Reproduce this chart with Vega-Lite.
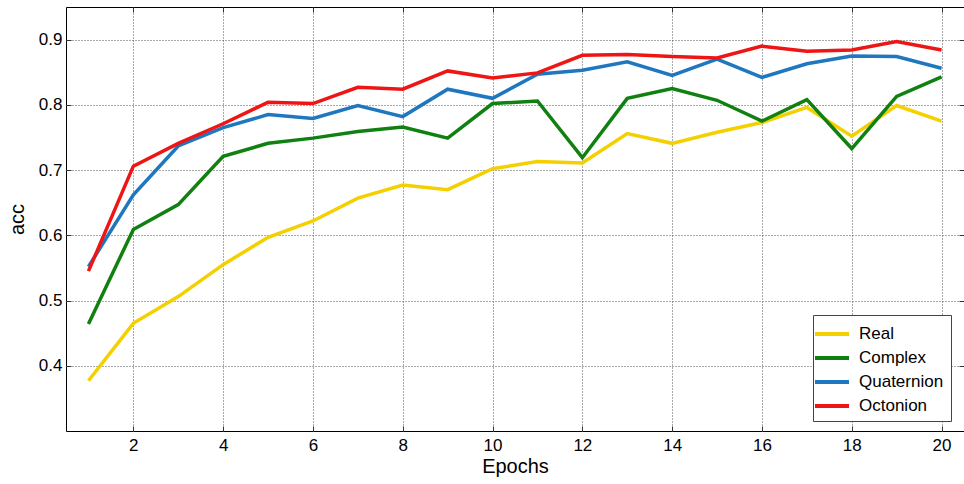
{
  "$schema": "https://vega.github.io/schema/vega-lite/v6.json",
  "width": 898,
  "height": 424,
  "autosize": {"type": "none"},
  "padding": {"left": 66, "top": 7, "right": 0, "bottom": 53},
  "background": "white",
  "config": {
    "font": "Liberation Sans",
    "view": {"stroke": "black", "strokeWidth": 1},
    "axis": {
      "labelFont": "Liberation Sans",
      "titleFont": "Liberation Sans",
      "labelColor": "black",
      "titleColor": "black",
      "domainColor": "black",
      "tickColor": "#333",
      "titleFontWeight": "normal"
    }
  },
  "data": {
    "values": [
      {"epoch": 1, "model": "Real", "acc": 0.377},
      {"epoch": 2, "model": "Real", "acc": 0.465},
      {"epoch": 3, "model": "Real", "acc": 0.506},
      {"epoch": 4, "model": "Real", "acc": 0.555},
      {"epoch": 5, "model": "Real", "acc": 0.597},
      {"epoch": 6, "model": "Real", "acc": 0.622},
      {"epoch": 7, "model": "Real", "acc": 0.657},
      {"epoch": 8, "model": "Real", "acc": 0.677},
      {"epoch": 9, "model": "Real", "acc": 0.670},
      {"epoch": 10, "model": "Real", "acc": 0.702},
      {"epoch": 11, "model": "Real", "acc": 0.713},
      {"epoch": 12, "model": "Real", "acc": 0.711},
      {"epoch": 13, "model": "Real", "acc": 0.756},
      {"epoch": 14, "model": "Real", "acc": 0.741},
      {"epoch": 15, "model": "Real", "acc": 0.758},
      {"epoch": 16, "model": "Real", "acc": 0.773},
      {"epoch": 17, "model": "Real", "acc": 0.796},
      {"epoch": 18, "model": "Real", "acc": 0.752},
      {"epoch": 19, "model": "Real", "acc": 0.799},
      {"epoch": 20, "model": "Real", "acc": 0.775},
      {"epoch": 1, "model": "Complex", "acc": 0.464},
      {"epoch": 2, "model": "Complex", "acc": 0.609},
      {"epoch": 3, "model": "Complex", "acc": 0.647},
      {"epoch": 4, "model": "Complex", "acc": 0.721},
      {"epoch": 5, "model": "Complex", "acc": 0.741},
      {"epoch": 6, "model": "Complex", "acc": 0.749},
      {"epoch": 7, "model": "Complex", "acc": 0.759},
      {"epoch": 8, "model": "Complex", "acc": 0.766},
      {"epoch": 9, "model": "Complex", "acc": 0.749},
      {"epoch": 10, "model": "Complex", "acc": 0.802},
      {"epoch": 11, "model": "Complex", "acc": 0.806},
      {"epoch": 12, "model": "Complex", "acc": 0.719},
      {"epoch": 13, "model": "Complex", "acc": 0.810},
      {"epoch": 14, "model": "Complex", "acc": 0.825},
      {"epoch": 15, "model": "Complex", "acc": 0.807},
      {"epoch": 16, "model": "Complex", "acc": 0.775},
      {"epoch": 17, "model": "Complex", "acc": 0.808},
      {"epoch": 18, "model": "Complex", "acc": 0.733},
      {"epoch": 19, "model": "Complex", "acc": 0.813},
      {"epoch": 20, "model": "Complex", "acc": 0.843},
      {"epoch": 1, "model": "Quaternion", "acc": 0.552},
      {"epoch": 2, "model": "Quaternion", "acc": 0.662},
      {"epoch": 3, "model": "Quaternion", "acc": 0.737},
      {"epoch": 4, "model": "Quaternion", "acc": 0.765},
      {"epoch": 5, "model": "Quaternion", "acc": 0.785},
      {"epoch": 6, "model": "Quaternion", "acc": 0.779},
      {"epoch": 7, "model": "Quaternion", "acc": 0.799},
      {"epoch": 8, "model": "Quaternion", "acc": 0.782},
      {"epoch": 9, "model": "Quaternion", "acc": 0.824},
      {"epoch": 10, "model": "Quaternion", "acc": 0.810},
      {"epoch": 11, "model": "Quaternion", "acc": 0.847},
      {"epoch": 12, "model": "Quaternion", "acc": 0.853},
      {"epoch": 13, "model": "Quaternion", "acc": 0.866},
      {"epoch": 14, "model": "Quaternion", "acc": 0.845},
      {"epoch": 15, "model": "Quaternion", "acc": 0.870},
      {"epoch": 16, "model": "Quaternion", "acc": 0.842},
      {"epoch": 17, "model": "Quaternion", "acc": 0.863},
      {"epoch": 18, "model": "Quaternion", "acc": 0.875},
      {"epoch": 19, "model": "Quaternion", "acc": 0.874},
      {"epoch": 20, "model": "Quaternion", "acc": 0.856},
      {"epoch": 1, "model": "Octonion", "acc": 0.545},
      {"epoch": 2, "model": "Octonion", "acc": 0.706},
      {"epoch": 3, "model": "Octonion", "acc": 0.741},
      {"epoch": 4, "model": "Octonion", "acc": 0.771},
      {"epoch": 5, "model": "Octonion", "acc": 0.804},
      {"epoch": 6, "model": "Octonion", "acc": 0.802},
      {"epoch": 7, "model": "Octonion", "acc": 0.827},
      {"epoch": 8, "model": "Octonion", "acc": 0.824},
      {"epoch": 9, "model": "Octonion", "acc": 0.852},
      {"epoch": 10, "model": "Octonion", "acc": 0.841},
      {"epoch": 11, "model": "Octonion", "acc": 0.849},
      {"epoch": 12, "model": "Octonion", "acc": 0.876},
      {"epoch": 13, "model": "Octonion", "acc": 0.877},
      {"epoch": 14, "model": "Octonion", "acc": 0.874},
      {"epoch": 15, "model": "Octonion", "acc": 0.872},
      {"epoch": 16, "model": "Octonion", "acc": 0.890},
      {"epoch": 17, "model": "Octonion", "acc": 0.882},
      {"epoch": 18, "model": "Octonion", "acc": 0.884},
      {"epoch": 19, "model": "Octonion", "acc": 0.897},
      {"epoch": 20, "model": "Octonion", "acc": 0.884}
    ]
  },
  "layer": [
    {
      "mark": {"type": "line", "strokeWidth": 3.5, "opacity": 0},
      "encoding": {
        "x": {"field": "epoch", "type": "quantitative", "scale": {"domain": [0.5, 20.5], "nice": false, "zero": false},
          "axis": {"orient": "top", "labels": false, "grid": false, "title": null, "values": [2,4,6,8,10,12,14,16,18,20], "tickSize": -5, "domain": false}},
        "y": {"field": "acc", "type": "quantitative", "scale": {"domain": [0.3, 0.95], "nice": false, "zero": false},
          "axis": {"orient": "right", "labels": false, "grid": false, "title": null, "values": [0.4,0.5,0.6,0.7,0.8,0.9], "tickSize": -5, "domain": false}},
        "detail": {"field": "model", "type": "nominal"}
      }
    },
    {
      "mark": {"type": "line", "strokeWidth": 3.5, "strokeJoin": "miter", "strokeCap": "butt"},
      "encoding": {
        "x": {"field": "epoch", "type": "quantitative", "scale": {"domain": [0.5, 20.5], "nice": false, "zero": false},
          "axis": {"orient": "bottom", "title": "Epochs", "titleFontSize": 20, "titlePadding": 3, "labelFontSize": 17, "values": [2,4,6,8,10,12,14,16,18,20], "tickSize": -5, "labelPadding": 11, "grid": true, "gridDash": [1, 2], "gridColor": "#555", "gridOpacity": 1, "domain": false}},
        "y": {"field": "acc", "type": "quantitative", "scale": {"domain": [0.3, 0.95], "nice": false, "zero": false},
          "axis": {"orient": "left", "title": "acc", "titleFontSize": 20, "titlePadding": 11, "labelFontSize": 17, "values": [0.4,0.5,0.6,0.7,0.8,0.9], "format": ".1f", "tickSize": -5, "labelPadding": 9, "grid": true, "gridDash": [1, 2], "gridColor": "#555", "gridOpacity": 1, "domain": false}},
        "color": {"field": "model", "type": "nominal",
          "scale": {"domain": ["Real", "Complex", "Quaternion", "Octonion"], "range": ["#F5D000", "#108010", "#1F77BF", "#EE1515"]},
          "legend": {"title": null, "orient": "none", "legendX": 747, "legendY": 308, "symbolType": "M-1.7,0H1.7", "symbolSize": 400, "symbolStrokeWidth": 4, "labelFontSize": 17, "labelFont": "Liberation Sans", "labelColor": "black", "strokeColor": "#444", "fillColor": "white", "padding": 7, "rowPadding": 4, "labelOffset": 15, "offset": 0}},
        "order": {"field": "epoch", "type": "quantitative"}
      }
    }
  ],
  "resolve": {"axis": {"x": "independent", "y": "independent"}}
}
